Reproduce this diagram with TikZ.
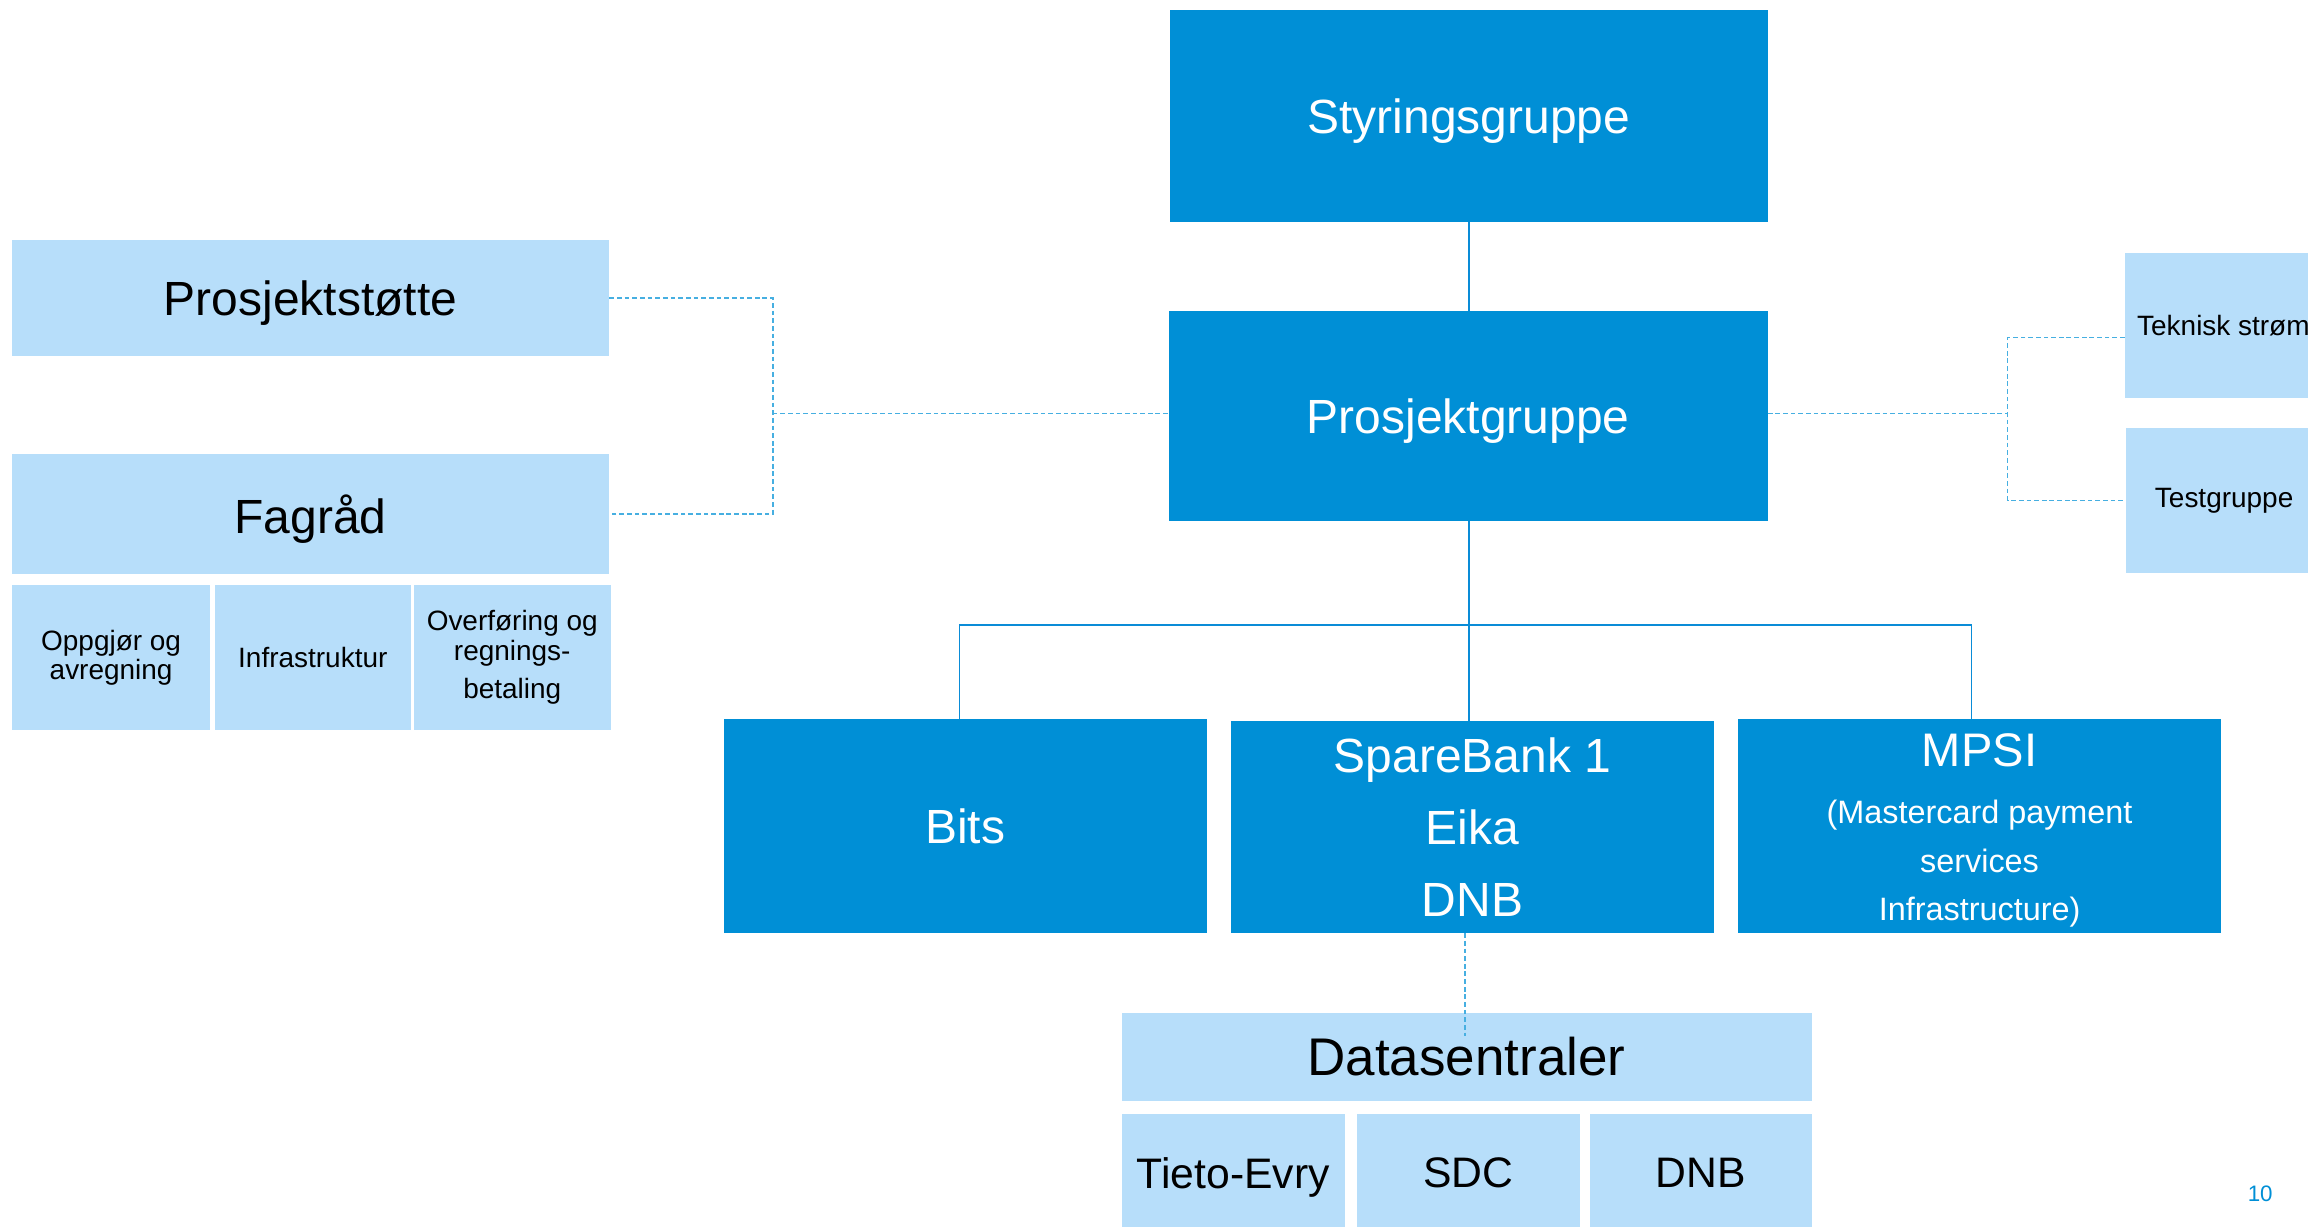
\documentclass[tikz,border=0pt]{standalone}
\usepackage{fontspec}
\setmainfont{Liberation Sans}
\definecolor{darkblue}{RGB}{0,143,214}
\definecolor{lightblue}{RGB}{183,222,250}
\definecolor{lineblue}{RGB}{10,140,215}
\definecolor{dashblue}{RGB}{70,175,225}

\begin{document}
\begin{tikzpicture}[
  x = 0.5pt, y = -0.5pt,
  every node/.style = {inner sep = 0pt, outer sep = 0pt, align = center},
  dark/.style = {fill = darkblue, text = white, font = \fontsize{16.3}{24.5}\selectfont},
  light/.style = {fill = lightblue, text = black},
  big/.style = {font = \fontsize{16.3}{20}\selectfont},
  small/.style = {font = \fontsize{9.5}{10}\selectfont},
  flat/.style = {text depth = 0pt},
  tree/.style = {draw = lineblue, line width = 0.5pt},
  link/.style = {draw = dashblue, line width = 0.5pt, dash pattern = on 1.6pt off 1pt},
  ]
  \useasboundingbox (0,0) rectangle (1568,833);
  \clip (0,0) rectangle (1568,833);

  \node[dark, flat, minimum width = 203pt, minimum height = 72pt] (styr) at (998,79) {Styringsgruppe};
  \node[dark, flat, minimum width = 203.5pt, minimum height = 71.5pt] (pg) at (997.5,282.5) {Prosjektgruppe};

  \node[light, big, flat, minimum width = 203pt, minimum height = 39.5pt] (ps) at (211,202.5) {Prosjektstøtte};
  \node[light, big, flat, minimum width = 203pt, minimum height = 40.75pt] (fag) at (211,349.25) {Fagråd};
  \node[light, small, minimum width = 67.5pt, minimum height = 49.25pt] (oppgj) at (75.5,446.75) {Oppgjør og\\avregning};
  \node[light, small, minimum width = 66.5pt, minimum height = 49.25pt] (infra) at (212.5,446.75) {Infrastruktur};
  \node[light, small, minimum width = 67pt, minimum height = 49.25pt] (overf) at (348,446.75) {Overføring og\\regnings-\\[3pt]betaling};

  \node[light, small, minimum width = 67pt, minimum height = 49.25pt] (tek) at (1510.5,221.25) {Teknisk strøm};
  \node[light, small, minimum width = 67pt, minimum height = 49pt] (test) at (1511,340) {Testgruppe};

  \node[dark, minimum width = 164.1pt, minimum height = 72.45pt] (bits) at (655.7,561.2) {Bits};
  \node[dark, minimum width = 164.1pt, minimum height = 72.2pt] (sb) at (1000.4,561.8) {SpareBank 1\\Eika\\DNB};
  \node[dark, minimum width = 164.15pt, minimum height = 72.45pt, font = \fontsize{11}{16.4}\selectfont] (mpsi) at (1344.85,561.2)
    {{\fontsize{16}{16.4}\selectfont\rule{0pt}{14.1pt}MPSI}\\[3.1pt](Mastercard payment\\services\\Infrastructure)};

  \node[light, font = \fontsize{18}{22}\selectfont, minimum width = 234.35pt, minimum height = 30pt] (dc) at (996.35,718) {Datasentraler};
  \node[light, flat, font = \fontsize{14.5}{18}\selectfont, minimum width = 75.8pt, minimum height = 40pt] (tieto) at (837.8,797) {Tieto-Evry};
  \node[light, font = \fontsize{14.5}{18}\selectfont, minimum width = 75.7pt, minimum height = 40pt] (sdc) at (997.7,797) {SDC};
  \node[light, font = \fontsize{14.5}{18}\selectfont, minimum width = 75.35pt, minimum height = 40pt] (dnb) at (1155.35,797) {DNB};

  \node[text = darkblue, font = \fontsize{7.6}{9}\selectfont] (pagenum) at (1535.5,811) {10};

  \coordinate (fork) at (998,424.6);
  \coordinate (lhub) at (525,281);
  \coordinate (rhub) at (1364,281);
  \coordinate (dcend) at (995.3,704);

  \draw[tree] (styr.south) -- (styr.south |- pg.north);
  \draw[tree] (pg.south -| fork) -- (fork |- sb.north);
  \draw[tree] ([xshift = -1.85pt]bits.north) |- (fork) -| ([xshift = -2.7pt]mpsi.north);

  \draw[link] (ps.east) -| (lhub |- fag.east) -- (fag.east);
  \draw[link] (lhub) -- (lhub -| pg.west);
  \draw[link] (pg.east |- rhub) -- (rhub);
  \draw[link] ([yshift = -4.1pt]tek.west) -| (rhub |- test.west) -- (test.west);
  \draw[link] (sb.south -| dcend) -- (dcend);
\end{tikzpicture}
\end{document}
